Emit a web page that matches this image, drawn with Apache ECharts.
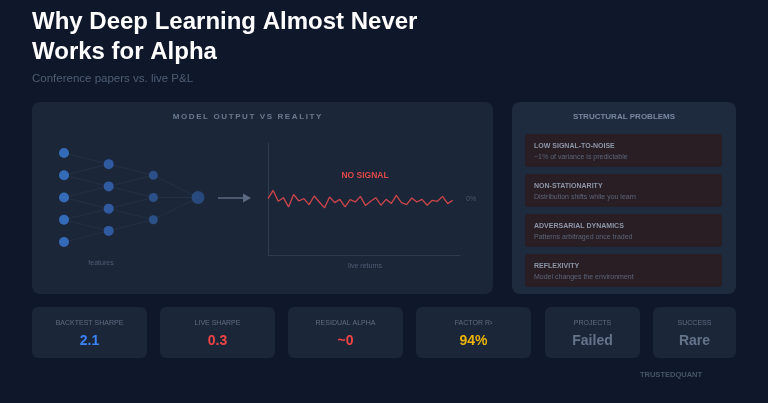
<!DOCTYPE html>
<html>
<head>
<meta charset="utf-8">
<script src="https://cdn.jsdelivr.net/npm/echarts@6/dist/echarts.min.js"></script>
<style>
  html, body { margin: 0; padding: 0; background: #0f172a; }
  #main { width: 768px; height: 403px; }
</style>
</head>
<body>
<div id="main"></div>
<script>
// data
const layerSizes = [5, 4, 3, 1];
const layerColors = ['#3b7dd8', '#3468b9', '#2f5a9b', '#2c5390'];
const liveReturns = [0.1, 2.6, -0.7, 0.4, -2.4, 1.4, -0.6, 0.1, -1.7, 0.9, -0.9, -2.7, 0.6,
  -1.1, -0.1, -2.4, -0.2, -0.9, 0.8, -2.0, -0.7, 0.4, -1.9, -0.1, -1.4, 1.1, -1.1,
  -1.7, 0.3, -0.9, -0.1, -1.9, -0.4, -0.7, 0.8, -1.4, -0.4];
const problemTitles = ['LOW SIGNAL-TO-NOISE', 'NON-STATIONARITY', 'ADVERSARIAL DYNAMICS', 'REFLEXIVITY'];
const problemNotes = ['~1% of variance is predictable', 'Distribution shifts while you learn',
  'Patterns arbitraged once traded', 'Model changes the environment'];
const statLabels = ['BACKTEST SHARPE', 'LIVE SHARPE', 'RESIDUAL ALPHA', 'FACTOR R\u00b2', 'PROJECTS', 'SUCCESS'];
const statValues = ['2.1', '0.3', '~0', '94%', 'Failed', 'Rare'];
const statColors = ['#3b82f6', '#ef4444', '#ef4444', '#eab308', '#64748b', '#64748b'];

const FONT = '"Liberation Sans", Arial, sans-serif';
const myChart = echarts.init(document.getElementById('main'));

// 神经网络节点：每层居中排布
const nodeSeries = [];
const linkCoords = [];
layerSizes.forEach((n, i) => {
  const pts = [];
  for (let j = 0; j < n; j++) pts.push([i, (n - 1) / 2 - j]);
  nodeSeries.push({
    type: 'scatter', xAxisIndex: 0, yAxisIndex: 0,
    symbolSize: i === 3 ? 13 : (i === 2 ? 9 : 10),
    itemStyle: { color: layerColors[i] },
    data: pts, z: 5, silent: true
  });
  if (i > 0) {
    const m = layerSizes[i - 1];
    for (let a = 0; a < m; a++) {
      const ya = (m - 1) / 2 - a;
      pts.forEach(p => {
        if (Math.abs(ya - p[1]) <= 1) linkCoords.push({ coords: [[i - 1, ya], p] });
      });
    }
  }
});

// 字间距：用细空格撑开
const spaced = s => s.split('').join('\u2009');

const g = [];
const rect = (x, y, w, h, fill, r) => g.push({ type: 'rect', z: 0, shape: { x, y, width: w, height: h, r: r || 6 }, style: { fill } });
const text = (x, y, t, fill, size, weight, align) => g.push({
  type: 'text', z: 100, x, y,
  style: { text: t, fill, font: (weight || 'normal') + ' ' + size + 'px ' + FONT, textAlign: align || 'left', textVerticalAlign: 'middle' }
});

// 标题
g.push({ type: 'text', z: 100, x: 32, y: 7, style: {
  text: 'Why Deep Learning Almost Never\nWorks for Alpha', fill: '#ffffff',
  font: 'bold 24px ' + FONT, lineHeight: 30, textVerticalAlign: 'top' } });
text(32, 79, 'Conference papers vs. live P&L', '#4f5d73', 11.5);

// 面板
rect(32, 102, 461, 192, '#1c2639', 8);
rect(512, 102, 224, 192, '#1e2b3f', 8);
text(247, 117, spaced('MODEL OUTPUT VS REALITY'), '#6b7a90', 8, 'bold', 'center');
text(624, 117, 'STRUCTURAL PROBLEMS', '#7888a0', 8, 'bold', 'center');
text(101, 263, 'features', '#4f5d73', 7, 'normal', 'center');
text(365, 266, 'live returns', '#4f5d73', 7, 'normal', 'center');
text(365, 176, 'NO SIGNAL', '#e04848', 8.5, 'bold', 'center');
g.push({ type: 'line', z: 100, shape: { x1: 218, y1: 198, x2: 244, y2: 198 }, style: { stroke: '#5b6a80', lineWidth: 1.5 } });
g.push({ type: 'polygon', z: 100, shape: { points: [[243, 193.5], [251, 198], [243, 202.5]] }, style: { fill: '#5b6a80' } });

problemTitles.forEach((t, i) => {
  const y = 134 + i * 40;
  rect(525, y, 197, 33, '#2a1e25', 3);
  text(534, y + 12, t, '#8b96a8', 7, 'bold');
  text(534, y + 23, problemNotes[i], '#5a6578', 7);
});

// 底部指标卡
const cardX = [32, 160, 288, 416, 545, 653];
const cardW = [115, 115, 115, 115, 95, 83];
statLabels.forEach((t, i) => {
  rect(cardX[i], 307, cardW[i], 51, '#1c2639', 6);
  const cx = cardX[i] + cardW[i] / 2;
  text(cx, 323, t, '#5f6d82', 7, 'normal', 'center');
  text(cx, 341, statValues[i], statColors[i], 14, 'bold', 'center');
});
text(671, 375, 'TRUSTEDQUANT', '#475569', 7.5, 'bold', 'center');

const option = {
  backgroundColor: '#0f172a',
  animation: false,
  graphic: { elements: g },
  grid: [
    { left: 64, top: 153, width: 134, height: 89 },
    { left: 268, top: 143, width: 192, height: 112 }
  ],
  xAxis: [
    { gridIndex: 0, type: 'value', min: 0, max: 3, show: false },
    { gridIndex: 1, type: 'value', min: 0, max: 37.4,
      axisLine: { show: true, onZero: false, lineStyle: { color: '#2f3b4e' } },
      axisTick: { show: false }, axisLabel: { show: false }, splitLine: { show: false } }
  ],
  yAxis: [
    { gridIndex: 0, type: 'value', min: -2, max: 2, show: false },
    { gridIndex: 1, type: 'value', min: -17, max: 17,
      axisLine: { show: true, lineStyle: { color: '#2f3b4e' } },
      axisTick: { show: false }, axisLabel: { show: false }, splitLine: { show: false } },
    { gridIndex: 1, type: 'value', position: 'right', min: -17, max: 17, interval: 17,
      axisLine: { show: false }, axisTick: { show: false }, splitLine: { show: false },
      axisLabel: { margin: 6, color: '#4a566a', fontSize: 7, fontFamily: FONT,
        formatter: v => (v === 0 ? '0%' : '') } }
  ],
  series: [
    {
      type: 'lines', coordinateSystem: 'cartesian2d', xAxisIndex: 0, yAxisIndex: 0,
      data: linkCoords, silent: true, z: 3,
      lineStyle: { color: '#34445c', width: 1, opacity: 0.3 }
    },
    ...nodeSeries,
    {
      type: 'line', xAxisIndex: 1, yAxisIndex: 1, symbol: 'none', silent: true,
      data: liveReturns.map((v, i) => [i, v]),
      lineStyle: { color: '#cc4649', width: 1.3 }
    }
  ]
};
myChart.setOption(option);
</script>
</body>
</html>
